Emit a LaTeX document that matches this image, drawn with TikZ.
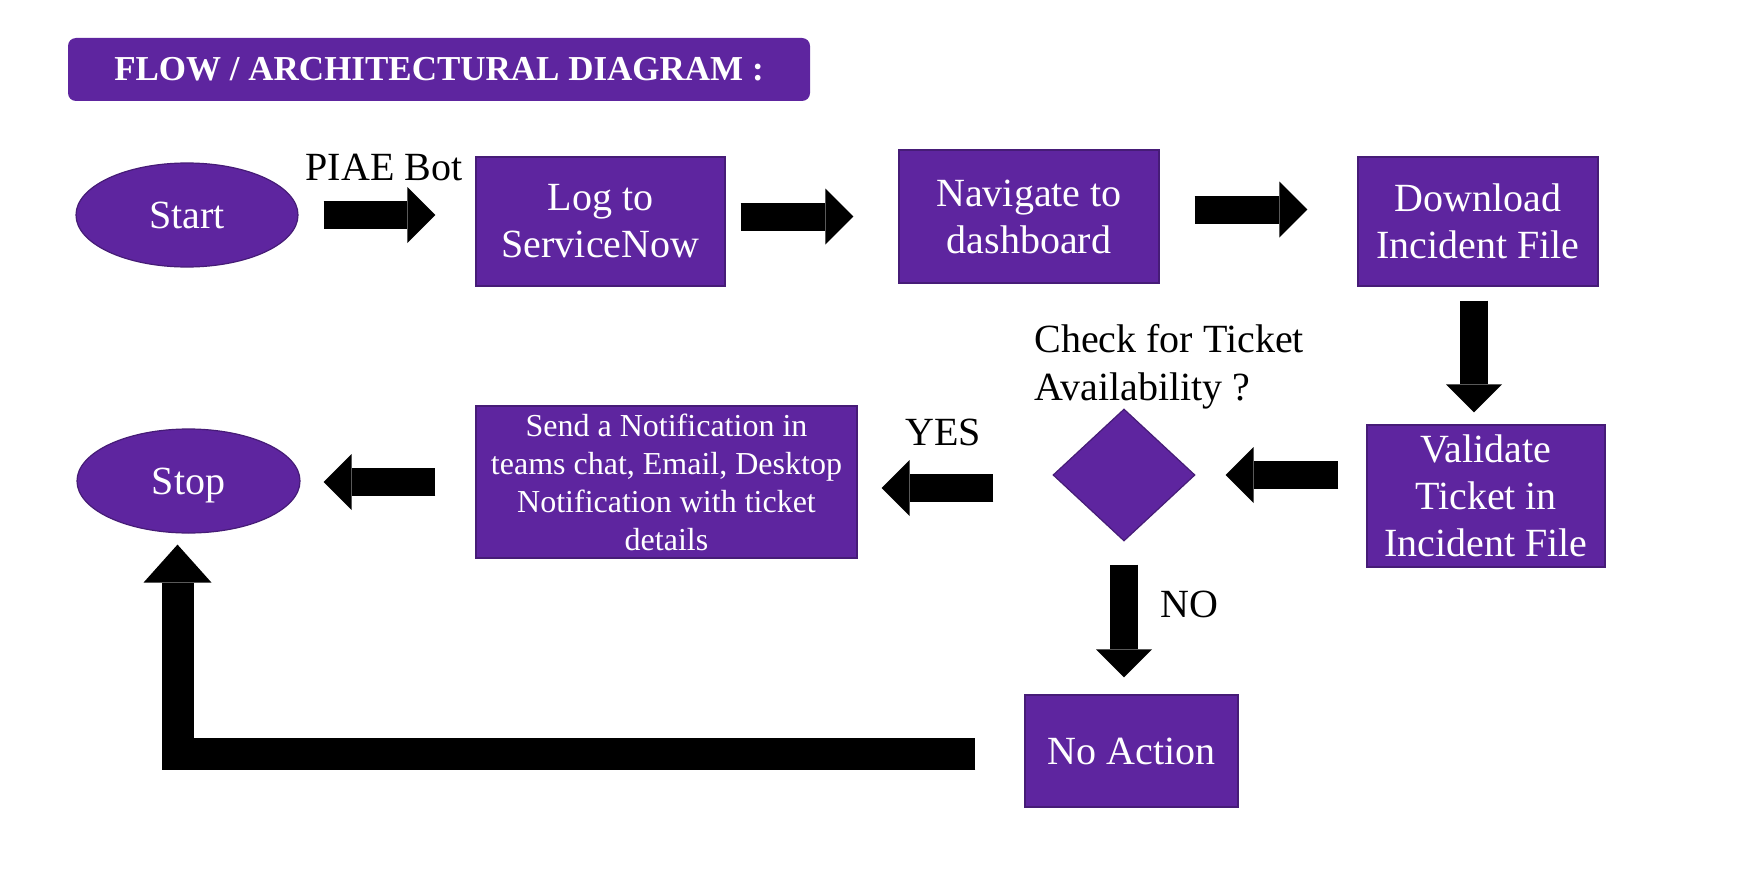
\documentclass[tikz,border=0pt]{standalone}
\usepackage{fontspec}
\setmainfont{Liberation Serif}
\usetikzlibrary{positioning,shapes.geometric,arrows.meta}
\definecolor{flowpurple}{RGB}{94,37,159}
\tikzset{
  box/.style={draw=flowpurple!75!black, line width=0.6pt, fill=flowpurple, text=white, align=center, inner sep=0pt, font=\fontsize{20}{23.5}\selectfont},
  term/.style={box, ellipse, text depth=0pt},
  blk/.style={line width=14pt, -{Triangle[length=14pt,width=28pt,line width=0pt]}},
  lbl/.style={inner sep=0pt, font=\fontsize{20}{24}\selectfont}
}

\begin{document}
\begin{tikzpicture}[x=0.5pt,y=-0.5pt]
        \useasboundingbox (0,0) rectangle (1756,888);
        \node[box, draw=none, rounded corners=4pt, minimum width=371pt, minimum height=31.5pt, font=\fontsize{17.5}{21}\selectfont\bfseries] (title) at (439,69.5) {FLOW / ARCHITECTURAL DIAGRAM :};

        \node[term, minimum width=111pt, minimum height=52pt] (start) at (187,215) {Start};
        \node[box, minimum width=124.5pt, minimum height=64.5pt] (log) at (600.5,221.5) {Log to\\ServiceNow};
        \node[box, minimum width=130pt, minimum height=66.5pt] (nav) at (1029,216.5) {Navigate to\\dashboard};
        \node[box, minimum width=120pt, minimum height=64.5pt] (down) at (1478,221.5) {Download\\Incident File};
        \node[box, minimum width=119pt, minimum height=71pt] (valid) at (1486,496) {Validate\\Ticket in\\Incident File};
        \node[box, diamond, minimum width=71pt, minimum height=66pt] (check) at (1124,475) {};
        \node[box, minimum width=190.5pt, minimum height=76pt, font=\fontsize{16}{19}\selectfont] (send) at (666.5,482) {Send a Notification in\\teams chat, Email, Desktop\\Notification with ticket\\details};
        \node[term, minimum width=111.5pt, minimum height=52pt] (stop) at (188.5,481) {Stop};
        \node[box, minimum width=106.5pt, minimum height=56pt] (noact) at (1131.5,751) {No Action};

        \node[lbl, anchor=base] (bot) at (384,180) {PIAE Bot};
        \node[lbl, anchor=north west, align=left] (ask) at (1034,324) {Check for Ticket\\Availability ?};
        \node[lbl, anchor=base west] (yes) at (905,445) {YES};
        \node[lbl, anchor=base west] (no) at (1160,617) {NO};

        \draw[blk] ([xshift=12.5pt]start.east) -- ([xshift=-20pt]start.east -| log.west);
        \draw[blk] ([xshift=7.5pt]nav.west -| log.east) -- ([xshift=-22.5pt]nav.west);
        \draw[blk] ([xshift=17.5pt,yshift=3.5pt]nav.east) -- ([xshift=-25pt,yshift=3.5pt]nav.east -| down.west);
        \draw[blk] ([xshift=-2pt,yshift=-7pt]down.south) -- ([xshift=-2pt,yshift=6pt]down.south |- valid.north);
        \draw[blk] ([xshift=-14pt]valid.west |- check.east) -- ([xshift=15pt]check.east);
        \draw[blk] ([xshift=-29.5pt,yshift=-6.5pt]check.west) -- ([xshift=12pt,yshift=-6.5pt]check.west -| send.east);
        \draw[blk] ([xshift=-20pt]send.west) -- ([xshift=11.5pt]send.west -| stop.east);
        \draw[blk] ([yshift=-11.5pt]check.south) -- ([yshift=8.5pt]noact.north -| check.south);
        \draw[line width=16pt, line join=miter, -{Triangle[length=19pt,width=34pt,line width=0pt]}] ([xshift=-24.5pt,yshift=-1.5pt]noact.west) -| ([xshift=-5.5pt,yshift=-5.5pt]stop.south);
\end{tikzpicture}
\end{document}
